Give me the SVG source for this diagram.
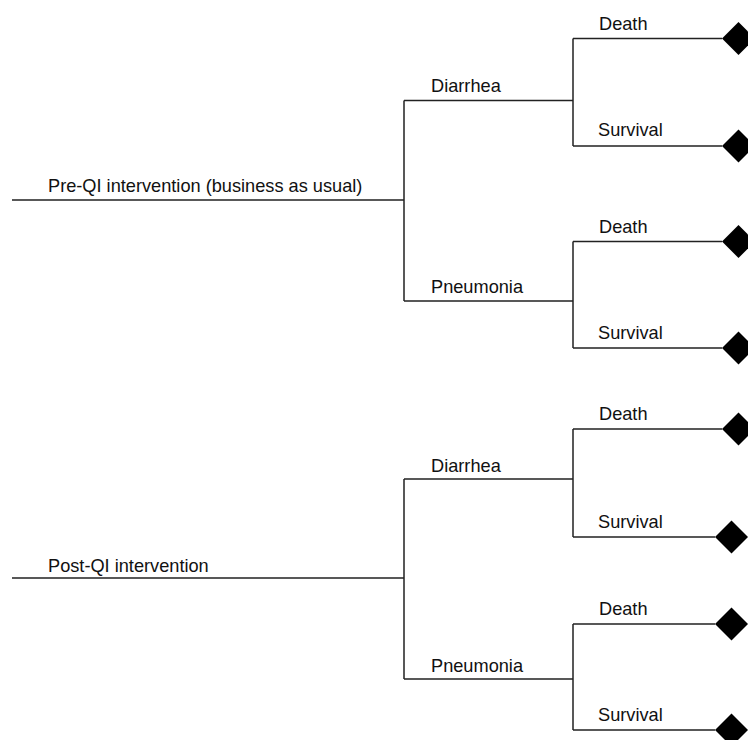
<svg xmlns="http://www.w3.org/2000/svg" width="748" height="740" viewBox="0 0 748 740">
<style>
.ln{stroke:#222;stroke-width:1.5;fill:none}
.t{font-family:"Liberation Sans",Arial,Helvetica,sans-serif;font-size:18.2px;fill:#111}
.end{fill:#000}
</style>
<defs>
<polygon id="dia" points="0,-16.5 16.5,0 0,16.5 -16.5,0"/>
</defs>
<rect width="748" height="740" fill="#fff"/>
<g id="connectors">
<path class="ln" d="M12,200H404M404,100.5V301M404,100.5H573M404,301H573"/>
<path class="ln" d="M573,38.5V146M573,38.5H722M573,146H722"/>
<path class="ln" d="M573,241.5V348M573,241.5H722M573,348H722"/>
<path class="ln" d="M12,578H404M404,479V679M404,479H573M404,679H573"/>
<path class="ln" d="M573,429V537M573,429H722M573,537H715"/>
<path class="ln" d="M573,624V730M573,624H715M573,730H715"/>
</g>
<g id="pre"><text class="t" x="48" y="191.5">Pre-QI intervention (business as usual)</text></g>
<g id="post"><text class="t" x="48" y="571.5">Post-QI intervention</text></g>
<g id="pre-diarrhea"><text class="t" x="431" y="92">Diarrhea</text></g>
<g id="pre-pneumonia"><text class="t" x="431" y="293">Pneumonia</text></g>
<g id="post-diarrhea"><text class="t" x="431" y="471.5">Diarrhea</text></g>
<g id="post-pneumonia"><text class="t" x="431" y="671.5">Pneumonia</text></g>
<g id="pre-d-death"><text class="t" x="599" y="29.5">Death</text><use href="#dia" class="end" x="738.5" y="38.5"/></g>
<g id="pre-d-survival"><text class="t" x="598" y="136">Survival</text><use href="#dia" class="end" x="738.5" y="146"/></g>
<g id="pre-p-death"><text class="t" x="599" y="232.5">Death</text><use href="#dia" class="end" x="738.5" y="241.5"/></g>
<g id="pre-p-survival"><text class="t" x="598" y="338.5">Survival</text><use href="#dia" class="end" x="738.5" y="348"/></g>
<g id="post-d-death"><text class="t" x="599" y="420">Death</text><use href="#dia" class="end" x="738.5" y="429"/></g>
<g id="post-d-survival"><text class="t" x="598" y="528">Survival</text><use href="#dia" class="end" x="731.5" y="537"/></g>
<g id="post-p-death"><text class="t" x="599" y="615">Death</text><use href="#dia" class="end" x="731.5" y="624"/></g>
<g id="post-p-survival"><text class="t" x="598" y="721">Survival</text><use href="#dia" class="end" x="731.5" y="730"/></g>
</svg>
